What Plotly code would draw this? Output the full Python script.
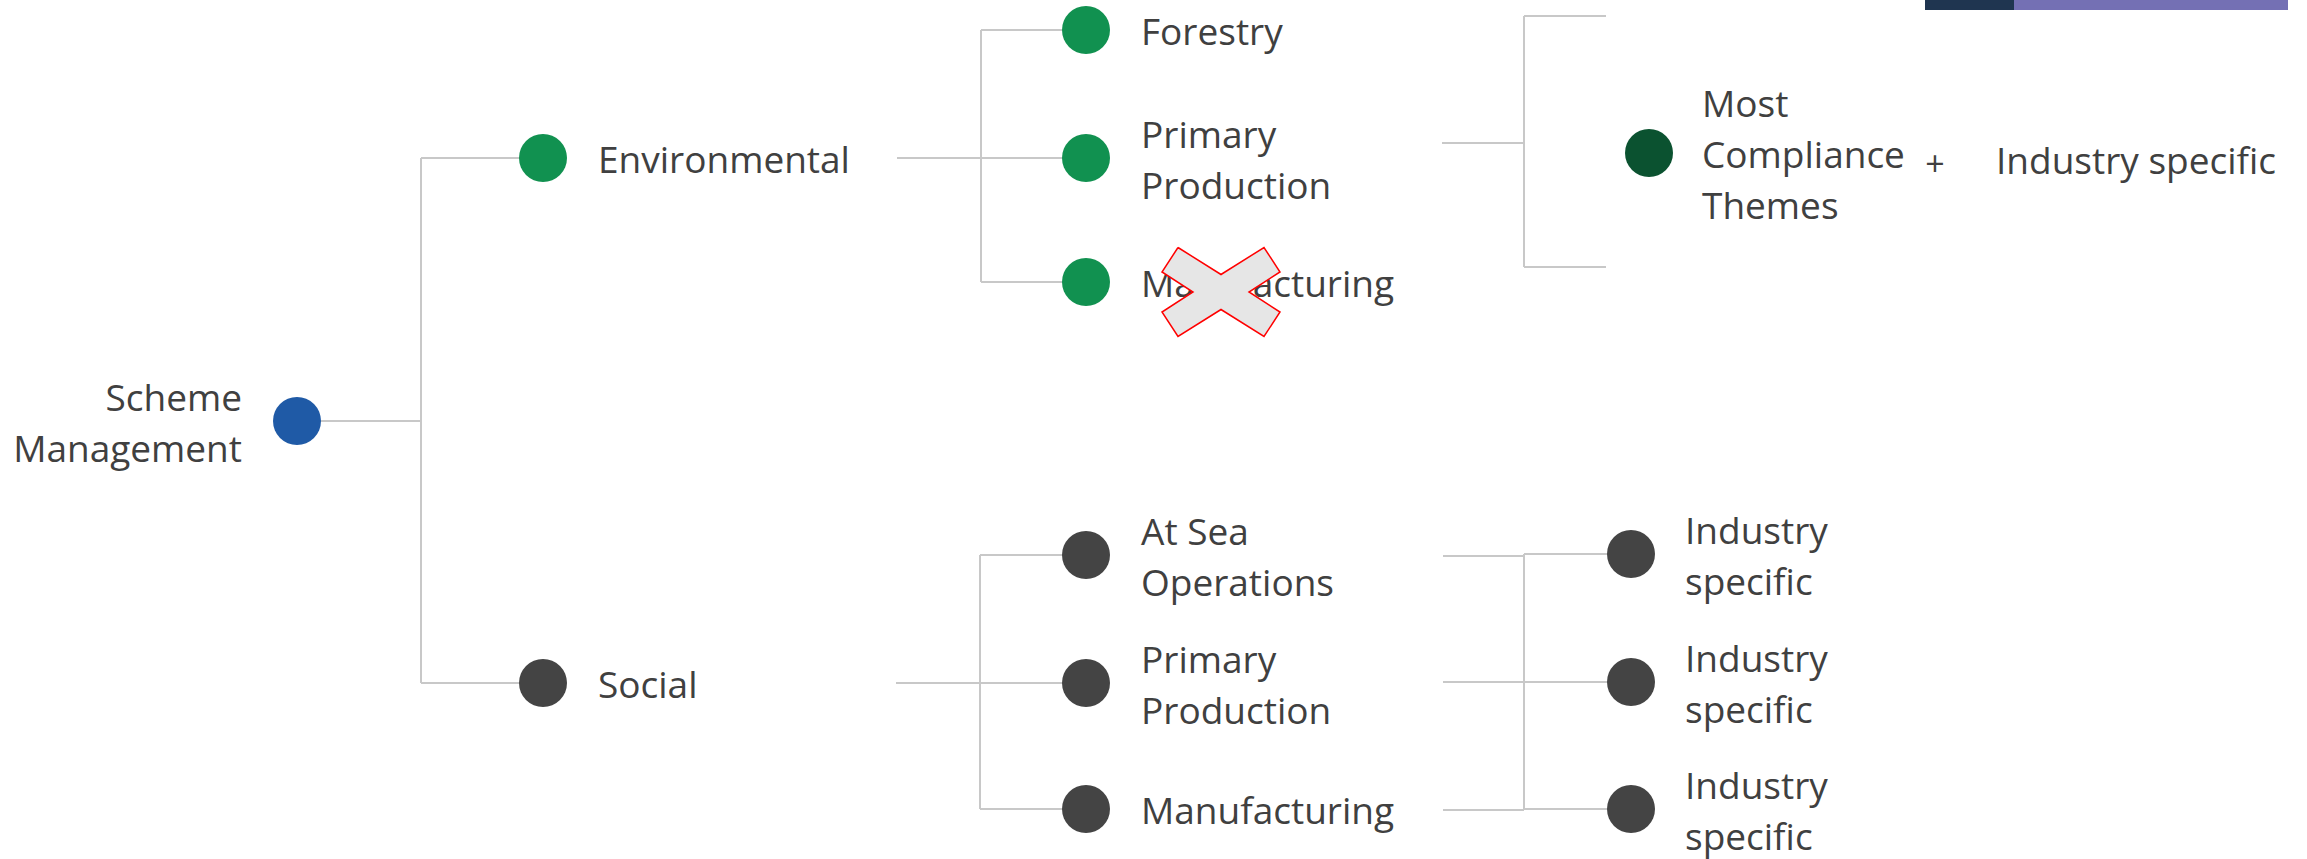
import plotly.graph_objects as go

# ---------------- data ----------------
ROOT_LABEL = "Scheme<br>Management"
PILLARS = ["Environmental", "Social"]
ENV_SECTORS = ["Forestry", "Primary<br>Production", "Manufacturing"]
SOCIAL_SECTORS = ["At Sea<br>Operations", "Primary<br>Production", "Manufacturing"]
ENV_OUTCOME = "Most<br>Compliance<br>Themes"
PLUS_SIGN = "+"
ENV_OUTCOME_EXTRA = "Industry specific"
SOCIAL_OUTCOMES = ["Industry<br>specific", "Industry<br>specific", "Industry<br>specific"]
EXCLUDED_ENV_SECTOR = "Manufacturing"

# ---------------- layout constants (pixel space) ----------------
W, H = 2307, 859
ROOT_X, ROOT_Y = 297, 421
PILLAR_X = 543
PILLAR_Y = [158, 683]
SECTOR_X = 1086
ENV_SECTOR_Y = [30, 158, 282]
SOC_SECTOR_Y = [555, 683, 809]
ENV_OUT_X, ENV_OUT_Y = 1649, 153
SOC_OUT_X = 1631
SOC_OUT_Y = [554, 682, 809]
LABEL_GAP = 55
BRACKET1_X = 421
BRACKET2_X = 981
BRACKET3_X = 1524
LINE_STEP = 51          # distance between text lines
TEXT_DY = 5             # vertical nudge so cap-centre sits on target

FONT = "Open Sans, Noto Sans, Arial, sans-serif"
FS = 37
TXT = "#404040"
LINE_C = "#C8C8C8"
BLUE = "#1F5AA6"
GREEN = "#119150"
DKGREEN = "#0B5230"
GREY = "#444444"

segs = []
def seg(x0, y0, x1, y1):
    segs.append(((x0, x1), (y0, y1)))

# root -> pillars
seg(ROOT_X, ROOT_Y, BRACKET1_X, ROOT_Y)
seg(BRACKET1_X, PILLAR_Y[0], BRACKET1_X, PILLAR_Y[1])
for y in PILLAR_Y:
    seg(BRACKET1_X, y, PILLAR_X, y)
# pillars -> sectors
seg(897, PILLAR_Y[0], BRACKET2_X, PILLAR_Y[0])
seg(BRACKET2_X, ENV_SECTOR_Y[0], BRACKET2_X, ENV_SECTOR_Y[-1])
for y in ENV_SECTOR_Y:
    seg(BRACKET2_X, y, SECTOR_X, y)
seg(896, PILLAR_Y[1], BRACKET2_X - 1, PILLAR_Y[1])
seg(BRACKET2_X - 1, SOC_SECTOR_Y[0], BRACKET2_X - 1, SOC_SECTOR_Y[-1])
for y in SOC_SECTOR_Y:
    seg(BRACKET2_X - 1, y, SECTOR_X, y)
# environmental outcome bracket
seg(1442, 143, BRACKET3_X, 143)
seg(BRACKET3_X, 16, BRACKET3_X, 267)
seg(BRACKET3_X, 16, 1606, 16)
seg(BRACKET3_X, 267, 1606, 267)
# social outcomes
for y in [556, 682, 810]:
    seg(1443, y, BRACKET3_X, y)
seg(BRACKET3_X, SOC_OUT_Y[0], BRACKET3_X, 810)
for y in SOC_OUT_Y:
    seg(BRACKET3_X, y, SOC_OUT_X, y)

lx, ly = [], []
for (xs, ys) in segs:
    lx += [xs[0], xs[1], None]
    ly += [ys[0], ys[1], None]

fig = go.Figure()
fig.add_trace(go.Scatter(x=lx, y=ly, mode="lines",
                         line=dict(color=LINE_C, width=2), hoverinfo="skip"))

# nodes
nx = [ROOT_X] + [PILLAR_X] * 2 + [SECTOR_X] * 6 + [ENV_OUT_X] + [SOC_OUT_X] * 3
ny = [ROOT_Y] + PILLAR_Y + ENV_SECTOR_Y + SOC_SECTOR_Y + [ENV_OUT_Y] + SOC_OUT_Y
nc = [BLUE, GREEN, GREY] + [GREEN] * 3 + [GREY] * 3 + [DKGREEN] + [GREY] * 3
fig.add_trace(go.Scatter(x=nx, y=ny, mode="markers",
                         marker=dict(size=48, color=nc, line=dict(width=0)),
                         hoverinfo="skip"))

# labels: split each multi-line label into lines centred on its node
def label_lines(labels, xs, ys):
    ox, oy, ot = [], [], []
    for lab, x, y in zip(labels, xs, ys):
        parts = lab.split("<br>")
        n = len(parts)
        for i, p in enumerate(parts):
            ox.append(x)
            oy.append(y + 1 + (i - (n - 1) / 2) * LINE_STEP + TEXT_DY)
            ot.append(p)
    return ox, oy, ot

labels = PILLARS + ENV_SECTORS + SOCIAL_SECTORS + [ENV_OUTCOME] + SOCIAL_OUTCOMES + [ENV_OUTCOME_EXTRA]
lab_x = ([PILLAR_X + LABEL_GAP] * 2 + [SECTOR_X + LABEL_GAP] * 6 +
         [ENV_OUT_X + LABEL_GAP - 2] + [SOC_OUT_X + LABEL_GAP - 1] * 3 + [1996])
lab_y = PILLAR_Y + ENV_SECTOR_Y + SOC_SECTOR_Y + [ENV_OUT_Y] + SOC_OUT_Y + [ENV_OUT_Y + 6]
tx, ty, tt = label_lines(labels, lab_x, lab_y)
fig.add_trace(go.Scatter(x=tx, y=ty, mode="text", text=tt, textposition="middle right",
                         textfont=dict(family=FONT, size=FS, color=TXT), hoverinfo="skip"))

rx, ry, rt = label_lines([ROOT_LABEL], [ROOT_X - LABEL_GAP], [ROOT_Y])
fig.add_trace(go.Scatter(x=rx, y=ry, mode="text", text=rt, textposition="middle left",
                         textfont=dict(family=FONT, size=FS, color=TXT), hoverinfo="skip"))
fig.add_trace(go.Scatter(x=[1935], y=[ENV_OUT_Y + 9 + TEXT_DY], mode="text", text=[PLUS_SIGN],
                         textposition="middle center",
                         textfont=dict(family=FONT, size=34, color=TXT), hoverinfo="skip"))

# cross over excluded sector
ix = ENV_SECTORS.index(EXCLUDED_ENV_SECTOR)
cx, cy = SECTOR_X + 135, ENV_SECTOR_Y[ix] + 10
xo = [-43, 0, 43, 59, 28, 59, 43, 0, -43, -59, -28, -59, -43]
yo = [-44.5, -17.5, -44.5, -20, 0, 20, 44.5, 17.5, 44.5, 20, 0, -20, -44.5]
fig.add_trace(go.Scatter(x=[cx + a for a in xo], y=[cy + b for b in yo], mode="lines",
                         fill="toself", fillcolor="#E6E6E6",
                         line=dict(color="#FF0000", width=1.5), hoverinfo="skip"))

# top-right decorative bar
fig.add_shape(type="rect", x0=1925, x1=2014, y0=0, y1=10, line_width=0, fillcolor="#1F3550")
fig.add_shape(type="rect", x0=2014, x1=2288, y0=0, y1=10, line_width=0, fillcolor="#7470B4")

fig.update_layout(
    width=W, height=H, margin=dict(l=0, r=0, t=0, b=0),
    paper_bgcolor="white", plot_bgcolor="white", showlegend=False,
    xaxis=dict(range=[0, W], visible=False, fixedrange=True),
    yaxis=dict(range=[H, 0], visible=False, fixedrange=True),
)

fig.write_html("out.html", config={"displayModeBar": False},
               post_script="document.body.style.margin='0';")
